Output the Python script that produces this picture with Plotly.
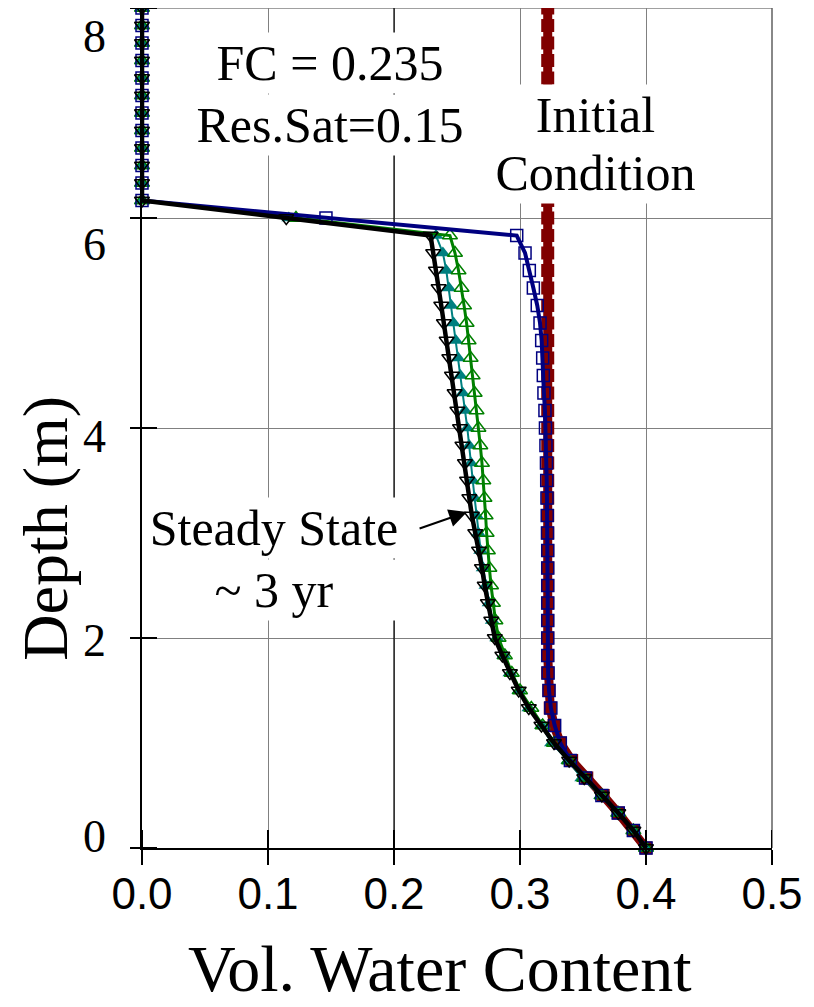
import plotly.graph_objects as go

# Depth of model nodes (m)
depth = [0.000, 0.167, 0.333, 0.500, 0.667, 0.833, 1.000, 1.167, 1.333, 1.500,
         1.667, 1.833, 2.000, 2.167, 2.333, 2.500, 2.667, 2.833, 3.000, 3.167,
         3.333, 3.500, 3.667, 3.833, 4.000, 4.167, 4.333, 4.500, 4.667, 4.833,
         5.000, 5.167, 5.333, 5.500, 5.667, 5.833, 6.000, 6.167, 6.333, 6.500,
         6.667, 6.833, 7.000, 7.167, 7.333, 7.500, 7.667, 7.833, 8.000]

theta_initial = [0.400, 0.390, 0.378, 0.366, 0.353, 0.341, 0.332, 0.327, 0.324, 0.323,
                 0.322, 0.322, 0.322, 0.322, 0.322, 0.322, 0.322, 0.322, 0.322, 0.322,
                 0.322, 0.322, 0.322, 0.322, 0.322, 0.322, 0.322, 0.322, 0.322, 0.322,
                 0.322, 0.322, 0.322, 0.322, 0.322, 0.322, 0.322, 0.322, 0.322, 0.322,
                 0.322, 0.322, 0.322, 0.322, 0.322, 0.322, 0.322, 0.322, 0.322]

theta_blue = [0.400, 0.390, 0.378, 0.365, 0.352, 0.340, 0.332, 0.3275, 0.3245, 0.323,
              0.3223, 0.322, 0.322, 0.322, 0.322, 0.322, 0.322, 0.322, 0.3218, 0.3216,
              0.3214, 0.3212, 0.321, 0.3206, 0.3202, 0.3198, 0.319, 0.3185, 0.318, 0.3172,
              0.3159, 0.3137, 0.3106, 0.3074, 0.304, 0.2974, 0.146, 0.0, 0.0, 0.0,
              0.0, 0.0, 0.0, 0.0, 0.0, 0.0, 0.0, 0.0, 0.0]

theta_green = [0.400, 0.390, 0.378, 0.365, 0.351, 0.339, 0.327, 0.318, 0.309, 0.300,
               0.2935, 0.288, 0.283, 0.2805, 0.2785, 0.277, 0.2757, 0.2745, 0.2735, 0.2727,
               0.2718, 0.2709, 0.2698, 0.2685, 0.2670, 0.2655, 0.2640, 0.2624, 0.2608, 0.2592,
               0.2576, 0.2556, 0.2536, 0.2512, 0.2484, 0.2444, 0.1222, 0.0, 0.0, 0.0,
               0.0, 0.0, 0.0, 0.0, 0.0, 0.0, 0.0, 0.0, 0.0]

theta_teal = [0.400, 0.390, 0.378, 0.364, 0.349, 0.338, 0.325, 0.317, 0.307, 0.299,
              0.292, 0.287, 0.2815, 0.278, 0.2755, 0.273, 0.2708, 0.2688, 0.267, 0.2655,
              0.264, 0.2625, 0.2611, 0.2597, 0.2582, 0.2563, 0.2545, 0.2527, 0.2509, 0.2491,
              0.2473, 0.2455, 0.2436, 0.2415, 0.2388, 0.2333, 0.1165, 0.0, 0.0, 0.0,
              0.0, 0.0, 0.0, 0.0, 0.0, 0.0, 0.0, 0.0, 0.0]

theta_steady = [0.400, 0.390, 0.378, 0.365, 0.351, 0.339, 0.327, 0.317, 0.307, 0.299,
                0.292, 0.286, 0.280, 0.2772, 0.2745, 0.272, 0.2698, 0.2675, 0.2645, 0.2618,
                0.2598, 0.258, 0.2563, 0.2543, 0.2524, 0.2503, 0.2481, 0.2460, 0.2439, 0.2418,
                0.2396, 0.2375, 0.2354, 0.2333, 0.2311, 0.2290, 0.1145, 0.0, 0.0, 0.0,
                0.0, 0.0, 0.0, 0.0, 0.0, 0.0, 0.0, 0.0, 0.0]

x_ticks = [0.0, 0.1, 0.2, 0.3, 0.4, 0.5]
x_ticktext = ["0.0", "0.1", "0.2", "0.3", "0.4", "0.5"]
y_ticks = [0, 2, 4, 6, 8]
y_ticktext = ["0", "2", "4", "6", "8"]

SERIF = "Liberation Serif, Times New Roman, serif"
SANS = "Liberation Sans, Arial, sans-serif"

fig = go.Figure()

fig.add_trace(go.Scatter(
    x=theta_initial, y=depth, mode="lines+markers", name="Initial Condition",
    line=dict(color="#800000", width=9),
    marker=dict(symbol="square", size=13, color="#800000"),
    cliponaxis=False))

fig.add_trace(go.Scatter(
    x=theta_teal, y=depth, mode="lines+markers", name="teal",
    line=dict(color="#008080", width=2),
    marker=dict(symbol="triangle-up", size=13, color="#008080"),
    cliponaxis=False))

fig.add_trace(go.Scatter(
    x=theta_green, y=depth, mode="lines+markers", name="green",
    line=dict(color="#008000", width=3),
    marker=dict(symbol="triangle-up-open", size=13, color="#008000", line=dict(width=1.5)),
    cliponaxis=False))

fig.add_trace(go.Scatter(
    x=theta_blue, y=depth, mode="lines+markers", name="blue",
    line=dict(color="#000080", width=4),
    marker=dict(symbol="square-open", size=12, color="#000080", line=dict(width=1.5)),
    cliponaxis=False))

fig.add_trace(go.Scatter(
    x=theta_steady, y=depth, mode="lines+markers", name="Steady State",
    line=dict(color="#000000", width=4.5),
    marker=dict(symbol="triangle-down-open", size=13, color="#000000", line=dict(width=1.5)),
    cliponaxis=False))

PLOT_W = 630
PLOT_H = 840

shapes = []
# dark reference line at 0.2 (drawn over grid, under traces)
shapes.append(dict(type="line", xref="x", yref="y", x0=0.2, x1=0.2, y0=0, y1=8,
                   line=dict(color="#000000", width=1.2), layer="between"))
# top and right borders (grid colour)
shapes.append(dict(type="line", xref="paper", yref="paper", x0=0, x1=1, y0=1, y1=1,
                   line=dict(color="#808080", width=1.5), layer="between"))
shapes.append(dict(type="line", xref="paper", yref="paper", x0=1, x1=1, y0=0, y1=1,
                   line=dict(color="#606060", width=1.5), layer="between"))
# inner halves of the crossing ticks
for v in x_ticks:
    shapes.append(dict(type="line", xref="x", yref="paper", x0=v, x1=v, y0=0, y1=18 / PLOT_H,
                       line=dict(color="#000000", width=2), layer="above"))
for v in y_ticks:
    shapes.append(dict(type="line", xref="paper", yref="y", x0=0, x1=15 / PLOT_W, y0=v, y1=v,
                       line=dict(color="#000000", width=2), layer="above"))

annotations = []

# y tick labels (placed as in the original figure, some sit below their ticks)
y_label_shift = [12, -2, -8, -26, -28]
for v, t, s in zip(y_ticks, y_ticktext, y_label_shift):
    annotations.append(dict(text=t, x=-0.054, y=v, xref="paper", yref="y", showarrow=False,
                            font=dict(family=SERIF, size=46, color="#000000"),
                            xanchor="right", yanchor="middle", yshift=s))

def label(text, x, y, width):
    annotations.append(dict(text=text, x=x, y=y, xref="x", yref="y", showarrow=False,
                            font=dict(family=SERIF, size=50, color="#000000"),
                            bgcolor="#ffffff", borderpad=2, width=width,
                            xanchor="center", yanchor="middle"))

label("FC = 0.235", 0.149, 7.48, 280)
label("Res.Sat=0.15", 0.149, 6.89, 280)
label("Initial", 0.3603, 6.98, 205)
label("Condition", 0.3603, 6.43, 205)
label("Steady State", 0.1048, 3.05, 258)
label("~ 3 yr", 0.1048, 2.46, 258)

# arrow to the steady-state curve
annotations.append(dict(text="", x=0.258, y=3.20, xref="x", yref="y", showarrow=True,
                        ax=-49, ay=17, arrowhead=2, arrowsize=1.8, arrowwidth=2,
                        arrowcolor="#000000", standoff=0))

# axis titles
annotations.append(dict(text="Depth (m)", x=-0.1524, y=3.05, xref="paper", yref="y",
                        showarrow=False, textangle=-90,
                        font=dict(family=SERIF, size=64, color="#000000"),
                        xanchor="center", yanchor="middle"))
annotations.append(dict(text="Vol. Water Content", x=0.473, y=-0.144, xref="paper",
                        yref="paper", showarrow=False,
                        font=dict(family=SERIF, size=66, color="#000000"),
                        xanchor="center", yanchor="middle"))

# The page adds an 8 px body margin, so the figure is sized to fill the
# remaining 806 x 999 px area of the 814 x 1007 window.
fig.update_layout(
    width=806, height=999,
    margin=dict(l=134, r=42, t=0, b=159, autoexpand=False),
    paper_bgcolor="#ffffff", plot_bgcolor="#ffffff",
    showlegend=False,
    shapes=shapes, annotations=annotations,
    xaxis=dict(range=[0, 0.5], tickvals=x_ticks, ticktext=x_ticktext,
               ticks="outside", ticklen=15, tickwidth=2, tickcolor="#000000",
               showline=True, linecolor="#000000", linewidth=2,
               showgrid=True, gridcolor="#808080", gridwidth=1, zeroline=False,
               automargin=False, ticklabelstandoff=-9,
               tickfont=dict(family=SANS, size=44, color="#000000")),
    yaxis=dict(range=[0, 8], tickvals=y_ticks, showticklabels=False,
               ticks="outside", ticklen=10, tickwidth=2, tickcolor="#000000",
               showline=True, linecolor="#000000", linewidth=2,
               showgrid=True, gridcolor="#808080", gridwidth=1, zeroline=False,
               automargin=False),
)

fig.write_html("out.html")
